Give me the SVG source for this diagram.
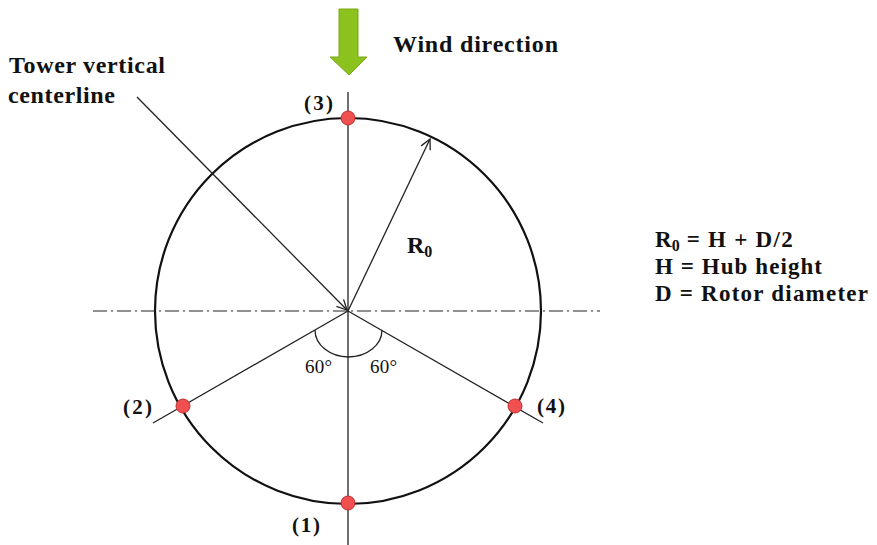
<svg xmlns="http://www.w3.org/2000/svg" width="877" height="545" viewBox="0 0 877 545">
<defs>
<style>
.t{font-family:"Liberation Serif","Times New Roman",serif;font-weight:bold;font-size:24px;fill:#111}
.f{font-family:"Liberation Serif","Times New Roman",serif;font-weight:bold;font-size:23px;fill:#111}
.p{font-family:"Liberation Serif","Times New Roman",serif;font-weight:bold;font-size:21px;fill:#111}
.s{font-family:"Liberation Serif","Times New Roman",serif;font-size:19px;fill:#111}
.ln{stroke:#222;stroke-width:1.3;fill:none}
.dot{fill:#f05050;stroke:#c03030;stroke-width:1}
</style>
<marker id="open" viewBox="0 0 12 12" refX="11" refY="6" markerWidth="12" markerHeight="12" markerUnits="userSpaceOnUse" orient="auto">
<path d="M1,1 L11,6 L1,11" fill="none" stroke="#222" stroke-width="1.3"/>
</marker>
</defs>
<rect width="877" height="545" fill="#fff"/>
<g id="wind">
<path d="M339,9 H358 V57 H367 L349,75 L330,57 H339 Z" fill="#8cc21e" stroke="#7aa818" stroke-width="1"/>
<text class="t" x="393" y="52" textLength="165">Wind direction</text>
</g>
<g id="circle">
<circle cx="348" cy="311" r="193" fill="none" stroke="#111" stroke-width="2.2"/>
</g>
<g id="connectors">
<line class="ln" x1="348" y1="92" x2="348" y2="545"/>
<line x1="93" y1="311" x2="600" y2="311" stroke="#222" stroke-width="1.2" stroke-dasharray="14,4,2,4"/>
<line class="ln" x1="348" y1="311" x2="153" y2="423"/>
<line class="ln" x1="348" y1="311" x2="543" y2="423"/>
<line class="ln" x1="137" y1="97" x2="347" y2="310" marker-end="url(#open)"/>
<line class="ln" x1="348" y1="311" x2="430" y2="139" marker-end="url(#open)"/>
<path class="ln" d="M315,330 A33.5,27 0 0 0 382,330"/>
</g>
<g id="labels">
<text class="t" x="9" y="73" textLength="156">Tower vertical</text>
<text class="t" x="8" y="103" textLength="107">centerline</text>
<text class="t" x="407" y="253">R<tspan font-size="16" dy="4">0</tspan></text>
<text class="s" x="305" y="373" textLength="27">60°</text>
<text class="s" x="370" y="373" textLength="27">60°</text>
<text class="f" x="655" y="247">R<tspan font-size="16" dy="4">0</tspan><tspan dy="-4" textLength="113"> = H + D/2</tspan></text>
<text class="f" x="655" y="274" textLength="167">H = Hub  height</text>
<text class="f" x="655" y="301" textLength="213">D = Rotor diameter</text>
</g>
<g id="p3"><circle class="dot" cx="348" cy="118" r="7"/><text class="p" x="304" y="110" textLength="29">(3)</text></g>
<g id="p2"><circle class="dot" cx="183" cy="406" r="7"/><text class="p" x="123" y="414" textLength="29">(2)</text></g>
<g id="p4"><circle class="dot" cx="515" cy="406" r="7"/><text class="p" x="537" y="413" textLength="28">(4)</text></g>
<g id="p1"><circle class="dot" cx="348" cy="503" r="7"/><text class="p" x="292" y="532" textLength="28">(1)</text></g>
</svg>
